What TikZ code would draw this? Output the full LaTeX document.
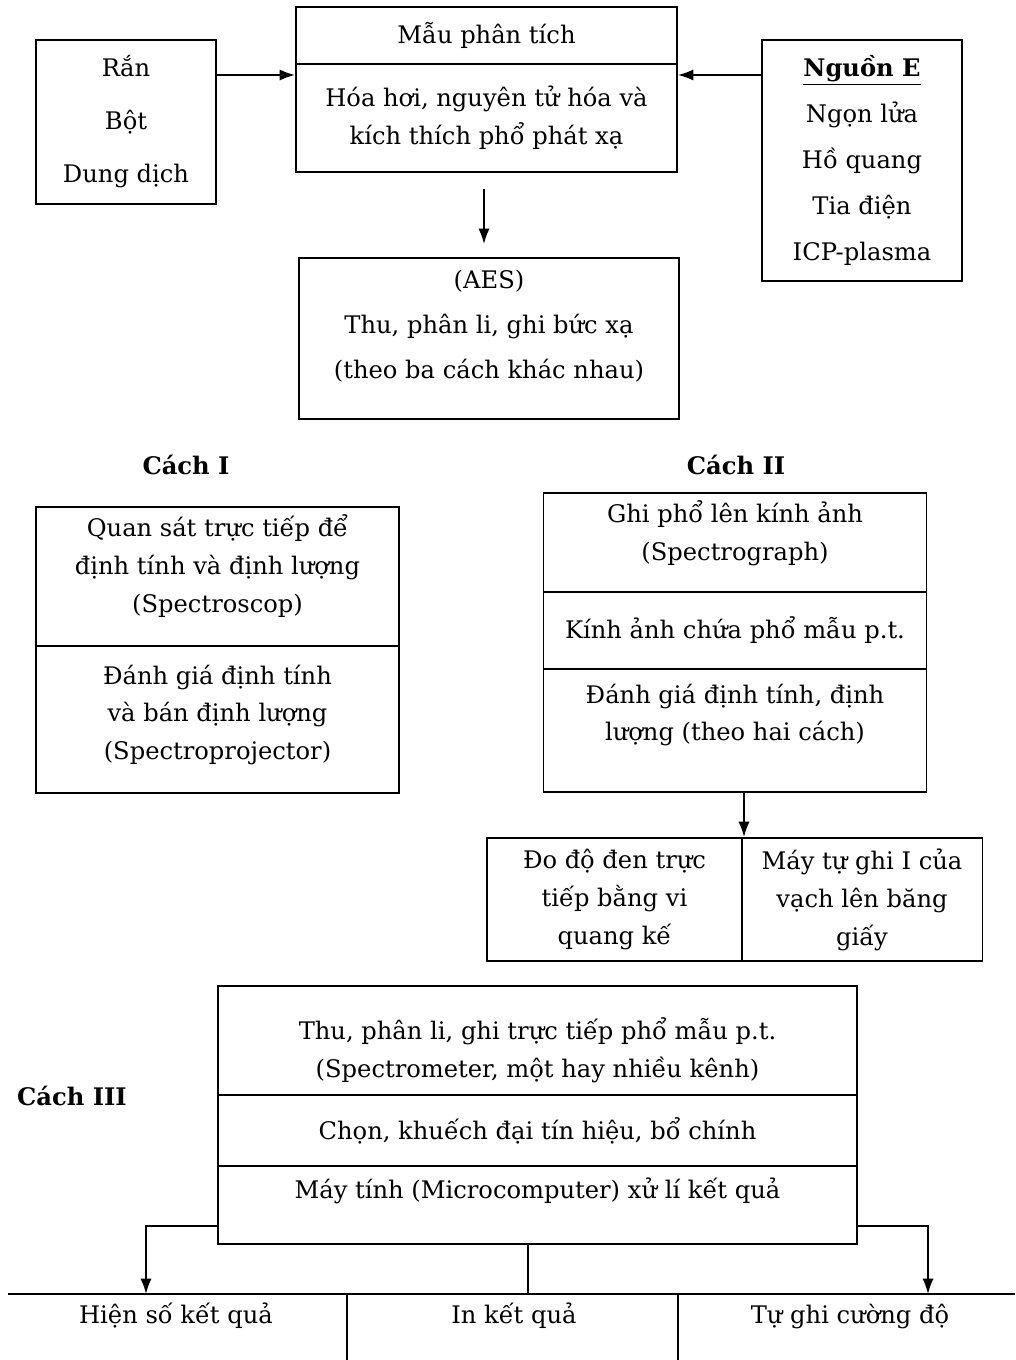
\documentclass[tikz,border=0pt]{standalone}
\usepackage{fontspec}
\setmainfont{DejaVu Serif}
\usetikzlibrary{arrows.meta,calc}
\begin{document}
\begin{tikzpicture}[x=0.025cm, y=-0.025cm,
  hop/.style={draw, line width=1.3pt, inner sep=0pt},
  chu/.style={align=center, font=\fontsize{17.2}{27}\selectfont},
  tieude/.style={font=\fontsize{17.2}{20}\selectfont\bfseries},
  muiten/.style={-{Latex[length=11pt,width=8pt]}, line width=1.3pt}]
\useasboundingbox (0,0) rectangle (1015,1360);

% Trang thai mau
\node[hop, chu, minimum width=4.5cm, minimum height=4.1cm, font=\fontsize{17.2}{37.7}\selectfont] (trangthai) at (126,122) {Rắn\\Bột\\Dung dịch};

% Khoi trung tam
\node[hop, chu, minimum width=9.525cm, minimum height=1.425cm] (mau) at (486.5,35.5) {Mẫu phân tích};
\node[hop, chu, minimum width=9.525cm, minimum height=2.7cm] (hoahoi) at (486.5,118) {Hóa hơi, nguyên tử hóa và\\kích thích phổ phát xạ};

% Nguon E
\node[hop, chu, minimum width=5cm, minimum height=6.025cm, font=\fontsize{17.2}{32.7}\selectfont] (nguon) at (862,160.5) {\underline{\textbf{Nguồn E}}\\Ngọn lửa\\Hồ quang\\Tia điện\\ICP-plasma};

\draw[muiten] (trangthai.east |- 0,75) -- (hoahoi.west |- 0,75);
\draw[muiten] (nguon.west |- 0,75) -- (hoahoi.east |- 0,75);

% AES
\node[hop, minimum width=9.5cm, minimum height=4.025cm] (aes) at (489,338.5) {};
\node[chu, font=\fontsize{17.2}{32}\selectfont] (aes-chu) at (489,326) {(AES)\\Thu, phân li, ghi bức xạ\\(theo ba cách khác nhau)};
\draw[muiten] ($(aes.north |- hoahoi.south)+(-5,16)$) -- ($(aes.north)+(-5,-13)$);

% Cach I
\node[tieude] (cach1) at (186,465) {Cách I};
\node[hop, minimum width=9.075cm, minimum height=3.475cm] (quansat) at (217.5,576.5) {};
\node[chu] (quansat-chu) at (217.5,566) {Quan sát trực tiếp để\\định tính và định lượng\\(Spectroscop)};
\node[hop, minimum width=9.075cm, minimum height=3.675cm] (danhgia1) at (217.5,719.5) {};
\node[chu] (danhgia1-chu) at (217.5,715) {Đánh giá định tính\\và bán định lượng\\(Spectroprojector)};

% Cach II
\node[tieude] (cach2) at (736,465) {Cách II};
\node[hop, minimum width=9.575cm, minimum height=2.475cm] (ghipho) at (735,542.5) {};
\node[chu] (ghipho-chu) at (735,533.5) {Ghi phổ lên kính ảnh\\(Spectrograph)};
\node[hop, chu, minimum width=9.575cm, minimum height=1.925cm] (kinhanh) at (735,630.5) {Kính ảnh chứa phổ mẫu p.t.};
\node[hop, minimum width=9.575cm, minimum height=3.075cm] (danhgia2) at (735,730.5) {};
\node[chu] (danhgia2-chu) at (735,715) {Đánh giá định tính, định\\lượng (theo hai cách)};

\node[hop, chu, minimum width=6.375cm, minimum height=3.075cm] (dodo) at (614.5,899.5) {Đo độ đen trực\\tiếp bằng vi\\quang kế};
\node[hop, chu, minimum width=6.025cm, minimum height=3.075cm] (mayghi) at (862,899.5) {Máy tự ghi I của\\vạch lên băng\\giấy};
\draw[muiten] (danhgia2.south -| 744,0) -- (dodo.north -| 744,0);

% Cach III
\node[tieude] (cach3) at (72,1096) {Cách III};
\node[hop, minimum width=15.975cm, minimum height=2.725cm] (thuphan) at (537.5,1040.5) {};
\node[chu] (thuphan-chu) at (537.5,1050) {Thu, phân li, ghi trực tiếp phổ mẫu p.t.\\(Spectrometer, một hay nhiều kênh)};
\node[hop, chu, minimum width=15.975cm, minimum height=1.775cm] (chon) at (537.5,1130.5) {Chọn, khuếch đại tín hiệu, bổ chính};
\node[hop, minimum width=15.975cm, minimum height=1.95cm] (maytinh) at (537.5,1205) {};
\node[chu] (maytinh-chu) at (537.5,1191) {Máy tính (Microcomputer) xử lí kết quả};

% Ket qua
\coordinate (day-trai) at (8,1294);
\coordinate (day-phai) at (1015,1294);
\coordinate (xuong-trai) at (146,1294);
\coordinate (xuong-phai) at (928,1294);
\coordinate (giua) at (528,1294);
\draw[line width=1.3pt] (day-trai) -- (day-phai);
\draw[line width=1.3pt] (347,1294) -- (347,1360);
\draw[line width=1.3pt] (678,1294) -- (678,1360);
\node[chu] (hienso) at (176,1316) {Hiện số kết quả};
\node[chu] (inkq) at (514,1316) {In kết quả};
\node[chu] (tughi) at (850,1316) {Tự ghi cường độ};
\draw[muiten] (maytinh.west |- 0,1226) -| (xuong-trai);
\draw[muiten] (maytinh.east |- 0,1226) -| (xuong-phai);
\draw[line width=1.3pt] (maytinh.south -| giua) -- (giua);

\end{tikzpicture}
\end{document}
